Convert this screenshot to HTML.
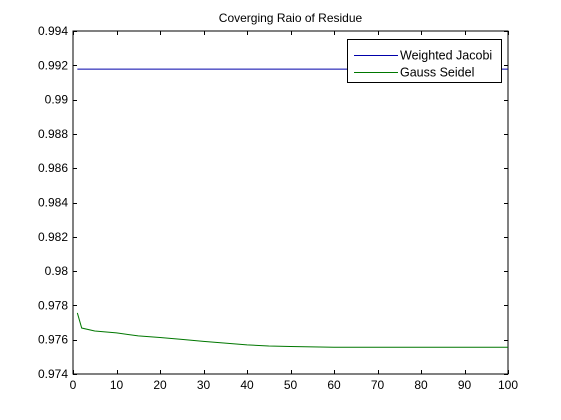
<!DOCTYPE html>
<html><head><meta charset="utf-8"><style>
body{margin:0;background:#fff;}
svg{display:block;font-family:"Liberation Sans",sans-serif;}
</style></head><body>
<svg id="c" width="561" height="420">
<rect x="0" y="0" width="561" height="420" fill="#fff"/>
</svg>
<script>
const xTicks=[0,10,20,30,40,50,60,70,80,90,100];
const yTicks=[0.974,0.976,0.978,0.98,0.982,0.984,0.986,0.988,0.99,0.992,0.994];
const yTickLabels=["0.974","0.976","0.978","0.98","0.982","0.984","0.986","0.988","0.99","0.992","0.994"];
const jacobiX=[1,100];
const jacobiY=[0.99178,0.99178];
const gaussX=[1,2,5,10,15,20,25,30,35,40,45,50,55,60,70,80,90,100];
const gaussY=[0.97756,0.97668,0.97651,0.97640,0.97622,0.97613,0.97602,0.97590,0.97580,0.97570,0.97563,0.97560,0.97558,0.97556,0.97556,0.97556,0.97556,0.97556];
const L=73,R=508,T=31,B=374;
const sx=v=>L+(v-0)/(100-0)*(R-L);
const sy=v=>B-(v-0.974)/(0.994-0.974)*(B-T);
const svg=document.getElementById('c');
const NS='http://www.w3.org/2000/svg';
function mk(tag,attrs){const e=document.createElementNS(NS,tag);for(const k in attrs)e.setAttribute(k,attrs[k]);svg.appendChild(e);return e;}
let ax=mk('rect',{x:L,y:T,width:R-L,height:B-T,fill:'#fff',stroke:'#000','stroke-width':1});


xTicks.forEach(v=>{
 const x=Math.round(sx(v))+0.5;
 let t=mk('line',{x1:x,x2:x,y1:B,y2:B-4,stroke:'#000'});
 
 
 let t2=mk('line',{x1:x,x2:x,y1:T,y2:T+4,stroke:'#000'});
 
 
 let l=mk('text',{x:sx(v),y:B+15,'text-anchor':'middle','font-size':12});
 l.textContent=v;
 
 
});
yTicks.forEach((v,i)=>{
 const y=Math.round(sy(v))+0.5;
 let t=mk('line',{x1:L,x2:L+4,y1:y,y2:y,stroke:'#000'});
 
 
 let t2=mk('line',{x1:R,x2:R-4,y1:y,y2:y,stroke:'#000'});
 
 
 let l=mk('text',{x:L-5,y:sy(v)+4,'text-anchor':'end','font-size':12});
 l.textContent=yTickLabels[i];
 
 
});
let pj=mk('polyline',{points:jacobiX.map((x,i)=>sx(x)+','+sy(jacobiY[i])).join(' '),fill:'none',stroke:'#0000aa','stroke-width':1});


let pg=mk('polyline',{points:gaussX.map((x,i)=>sx(x)+','+sy(gaussY[i])).join(' '),fill:'none',stroke:'#007700','stroke-width':1});


let ti=mk('text',{x:(L+R)/2,y:22,'text-anchor':'middle','font-size':12});
ti.textContent='Coverging Raio of Residue';


let lg=mk('rect',{x:347.5,y:39.5,width:154,height:43,fill:'#fff',stroke:'#000'});


[['Weighted Jacobi','#0000aa',55],['Gauss Seidel','#007700',72]].forEach(([n,c,y])=>{
 let s=mk('line',{x1:354,x2:398,y1:y+0.5,y2:y+0.5,stroke:c});
 
 
 let t=mk('text',{x:400,y:y+4.5,'font-size':12.5});
 t.textContent=n;
 
 
});
</script>
</body></html>
